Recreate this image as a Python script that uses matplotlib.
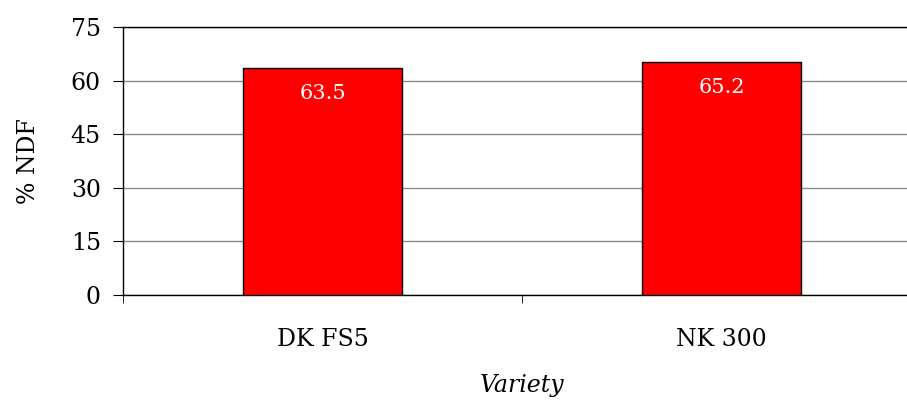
import matplotlib
matplotlib.use('Agg')
import matplotlib.pyplot as plt

varieties = ['DK FS5', 'NK 300']
ndf = [63.5, 65.2]
y_ticks = [0, 15, 30, 45, 60, 75]

plt.rcParams['font.family'] = ['DejaVu Serif']

fig = plt.figure(figsize=(9.07, 4.04), dpi=100)
ax = fig.add_axes([123 / 907, 1 - 295 / 404, 798 / 907, 268 / 404])

x = list(range(len(varieties)))
bars = ax.bar(x, ndf, width=0.4, color='#ff0000', edgecolor='black', linewidth=1, zorder=3)

for b, v in zip(bars, ndf):
    ax.annotate(f'{v}', (b.get_x() + b.get_width() / 2, v), xytext=(0, -18),
                textcoords='offset points', ha='center', va='center',
                color='white', fontsize=15, zorder=4)

ax.set_xlim(-0.5, len(varieties) - 0.5)
ax.set_ylim(0, 75)
ax.set_yticks(y_ticks)
ax.set_yticklabels([str(t) for t in y_ticks], fontsize=17)
ax.yaxis.grid(True, color='#8a8a8a', linewidth=1, zorder=0)
ax.set_axisbelow(True)

# category labels centered, ticks on category boundaries
ax.set_xticks(x)
ax.set_xticklabels(varieties, fontsize=17)
ax.tick_params(axis='x', length=0, pad=24)
ax.set_xticks([-0.5, 0.5, 1.5], minor=True)
ax.tick_params(axis='x', which='minor', length=6, direction='out', color='black')
ax.tick_params(axis='y', length=7, direction='out', pad=9)

ax.set_ylabel('% NDF', fontsize=17, labelpad=22)
ax.set_xlabel('Variety', fontsize=17, style='italic', labelpad=16)

for s in ['top', 'left', 'bottom', 'right']:
    ax.spines[s].set_color('black')
    ax.spines[s].set_linewidth(1)

fig.savefig('out.png', dpi=100)
